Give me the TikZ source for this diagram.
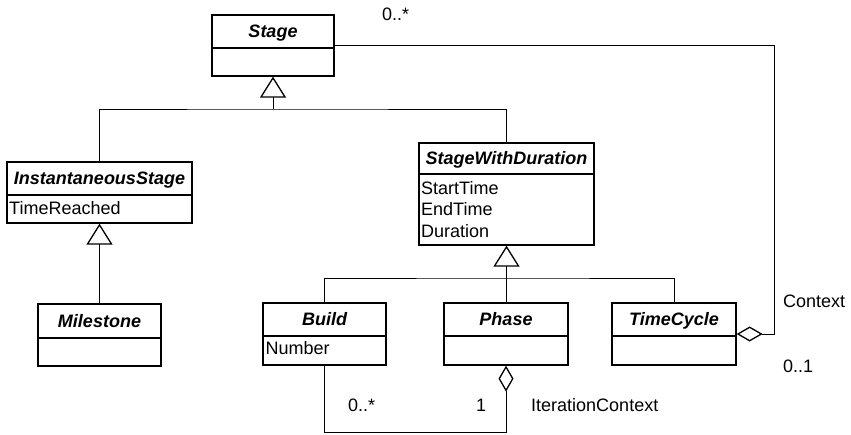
\documentclass[tikz,border=0pt]{standalone}
\usepackage{fontspec}
\setmainfont{Liberation Sans}
\usetikzlibrary{arrows.meta}
\newcommand\umlclass[7]{%
  \node[box, minimum width={#4-#2}, minimum height={#6-#3}] (#1) at ({(#2+#4)/2},{(#3+#6)/2}) {};
  \draw[line width=1.3pt] (#1.west |- 0,#5) -- (#1.east |- 0,#5);
  \node[ctitle] (#1-t) at ({(#2+#4)/2},{(#3+#5)/2}) {#7};
}
\begin{document}
\begin{tikzpicture}[x=1pt,y=-1pt,
  box/.style={draw, line width=1.3pt, inner sep=0pt, rectangle},
  ctitle/.style={font=\fontsize{18pt}{21pt}\selectfont\bfseries\itshape, inner sep=0pt, text height=12.9pt, text depth=0pt},
  lbl/.style={font=\fontsize{18pt}{21pt}\selectfont, inner sep=0pt, text height=12.9pt, text depth=0pt, anchor=west},
  conn/.style={draw, line width=0.9pt},
  gen/.style={conn, -{Triangle[open, length=21pt, width=26pt, line width=1.3pt]}},
  agg/.style={conn, -{Diamond[open, length=26pt, width=15pt, line width=1.3pt]}},
]
\useasboundingbox (0,0) rectangle (851,434);
% classes
\umlclass{stage}{212}{15}{334}{48}{76}{Stage}
\umlclass{inst}{7}{162}{192}{195}{223}{InstantaneousStage}
\umlclass{mile}{38}{304}{161}{338}{366}{Milestone}
\umlclass{swd}{419}{143}{594}{174}{245}{StageWithDuration}
\umlclass{build}{263}{303}{386}{336}{365}{Build}
\umlclass{phase}{444}{303}{568}{336}{365}{Phase}
\umlclass{tc}{612}{303}{736}{336}{365}{TimeCycle}
% attributes
\node[lbl] (a1) at (9,208.5) {TimeReached};
\node[lbl] (a2) at (421,188) {StartTime};
\node[lbl] (a3) at (421,209.5) {EndTime};
\node[lbl] (a4) at (421,231) {Duration};
\node[lbl] (a5) at (265.5,348.5) {Number};
% generalizations
\coordinate (bus1) at (273,109);
\draw[gen] (bus1) -- (stage.south);
\draw[conn] (inst.north) |- (bus1) -| (swd.north);
\draw[gen] (mile.north) -- (inst.south);
\coordinate (bus2) at (506.5,278);
\draw[gen] (bus2) -- (swd.south);
\draw[conn] (build.north) |- (bus2) -| (tc.north);
\draw[conn] (phase.north) -- (phase.north |- bus2);
% aggregations
\coordinate (itc) at (506,432);
\draw[agg] (build.south) |- (itc) -- (phase.south);
\coordinate (ctx) at (774,200);
\draw[agg] (stage.east) -| (ctx) |- (tc.east);
% labels
\node[lbl] (m1) at (382,14) {0..*};
\node[lbl] (ctxl) at (783,301) {Context};
\node[lbl] (m2) at (783,366) {0..1};
\node[lbl] (m3) at (348,405) {0..*};
\node[lbl] (m4) at (476,405) {1};
\node[lbl] (ic) at (531,405) {IterationContext};
\end{tikzpicture}
\end{document}
